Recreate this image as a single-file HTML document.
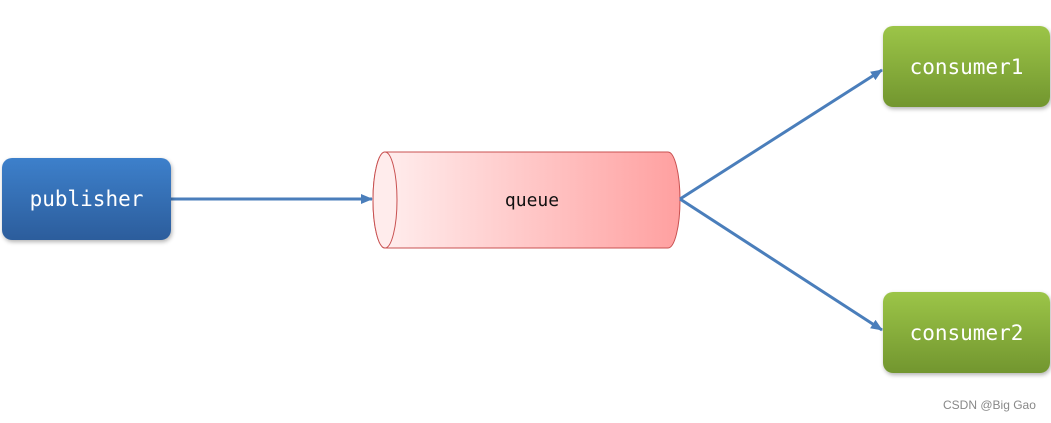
<!DOCTYPE html>
<html><head><style>
body{margin:0;background:#fff;width:1051px;height:423px;overflow:hidden;position:relative;font-family:"DejaVu Sans Mono","Liberation Mono",monospace}
.box{position:absolute;border-radius:10px;color:#fff;font-size:21px;display:flex;align-items:center;justify-content:center;box-shadow:1px 2px 4px rgba(0,0,0,.3)}
.pub{left:2px;top:158px;width:169px;height:82px;background:linear-gradient(#3d80cb,#2c5d9c)}
.c{left:883px;width:167px;height:81px;background:linear-gradient(#9cc548,#72962f)}
.wm{position:absolute;left:943px;top:398px;font:12px "Liberation Sans",sans-serif;color:#888}
</style></head><body>
<svg width="1051" height="423" style="position:absolute;left:0;top:0">
<defs>
<linearGradient id="q" x1="0" x2="1"><stop offset="0" stop-color="#fff0f0"/><stop offset="1" stop-color="#ffa0a0"/></linearGradient>
<marker id="a" markerWidth="12" markerHeight="10" refX="11" refY="5" orient="auto" markerUnits="userSpaceOnUse"><path d="M0,0L12,5L0,10z" fill="#4a7ebb"/></marker>
</defs>
<path d="M385,152 H668 A12,48 0 0 1 668,248 H385 A12,48 0 0 1 385,152z" fill="url(#q)" stroke="#c85050" stroke-width="1"/>
<ellipse cx="385" cy="200" rx="12" ry="48" fill="#ffecec" stroke="#c85050" stroke-width="1"/>
<text x="532" y="206" font-family="DejaVu Sans Mono,Liberation Mono,monospace" font-size="18" text-anchor="middle" fill="#111">queue</text>
<g stroke="#4a7ebb" stroke-width="3" fill="none" marker-end="url(#a)">
<line x1="171" y1="199" x2="372" y2="199"/>
<line x1="680" y1="199" x2="882" y2="70"/>
<line x1="680" y1="199" x2="882" y2="330"/>
</g>
</svg>
<div class="box pub">publisher</div>
<div class="box c" style="top:26px">consumer1</div>
<div class="box c" style="top:292px">consumer2</div>
<div class="wm">CSDN @Big Gao</div>
</body></html>
